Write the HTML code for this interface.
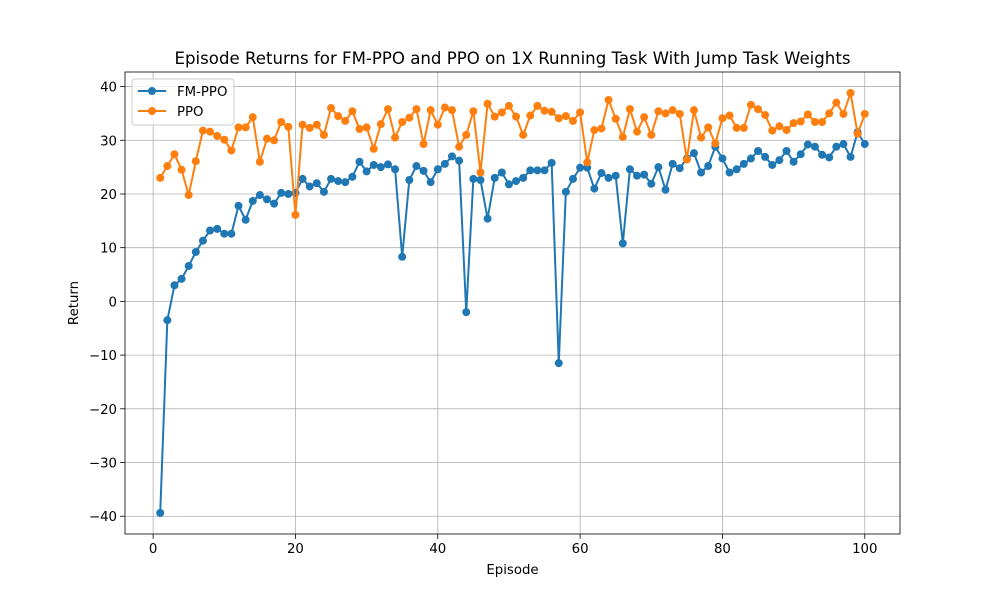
<!DOCTYPE html>
<html><head><meta charset="utf-8"><style>
body{margin:0;background:#fff}
svg{font-family:"DejaVu Sans","Liberation Sans",sans-serif}
</style></head><body>
<svg id="chart" width="1000" height="600" viewBox="0 0 1000 600">
<rect width="1000" height="600" fill="#fff"/>
<g id="grid"></g>
<g id="series"></g>
<rect x="125" y="72" width="775" height="462" fill="none" stroke="#000" stroke-width="0.8"/>
<g id="ticks"></g>
<text x="512.5" y="64" text-anchor="middle" font-size="16.6">Episode Returns for FM-PPO and PPO on 1X Running Task With Jump Task Weights</text>
<text x="512.5" y="574" text-anchor="middle" font-size="13.3">Episode</text>
<text x="78" y="303" text-anchor="middle" font-size="13.3" transform="rotate(-90 78 303)">Return</text>
<g>
<rect x="132" y="79" width="102" height="46" rx="3" fill="#fff" fill-opacity="0.8" stroke="#ccc"/>
<g>
<line x1="138" y1="91" x2="166" y2="91" stroke="#1f77b4" stroke-width="2"/><circle cx="152" cy="91" r="4" fill="#1f77b4"/>
<text x="177" y="96" font-size="13.3">FM-PPO</text></g>
<g>
<line x1="138" y1="111" x2="166" y2="111" stroke="#ff7f0e" stroke-width="2"/><circle cx="152" cy="111" r="4" fill="#ff7f0e"/>
<text x="177" y="116" font-size="13.3">PPO</text></g>
</g>
</svg>
<script>
const fmppo=[-39.4,-3.5,3,4.2,6.6,9.2,11.3,13.2,13.5,12.6,12.6,17.8,15.2,18.7,19.8,19,18.2,20.2,20,20.2,22.8,21.4,22,20.4,22.8,22.4,22.2,23.2,26,24.2,25.4,25,25.5,24.6,8.3,22.6,25.2,24.3,22.2,24.6,25.6,27,26.2,-2,22.8,22.6,15.4,23,24,21.8,22.4,23,24.4,24.4,24.4,25.8,-11.5,20.4,22.8,24.9,24.9,21,23.9,23,23.4,10.8,24.6,23.4,23.6,21.9,25,20.8,25.6,24.8,26.6,27.6,24,25.2,28.8,26.6,24,24.6,25.6,26.6,28,26.9,25.4,26.3,28,26,27.4,29.2,28.8,27.3,26.8,28.8,29.3,26.9,31.5,29.3];
const ppo=[23,25.2,27.4,24.5,19.8,26.1,31.8,31.6,30.8,30.1,28.1,32.4,32.4,34.3,26,30.3,30,33.4,32.5,16.1,32.9,32.3,32.9,31,36,34.5,33.6,35.4,32.1,32.4,28.4,33,35.8,30.5,33.4,34.2,35.8,29.3,35.6,32.9,36.1,35.6,28.8,31,35.4,24,36.8,34.4,35.2,36.4,34.4,31,34.6,36.4,35.5,35.3,34.1,34.5,33.6,35.2,25.9,31.9,32.2,37.5,34,30.6,35.8,31.6,34.3,31,35.4,35,35.6,34.9,26.4,35.6,30.5,32.4,29.4,34.1,34.6,32.3,32.3,36.6,35.8,34.7,31.8,32.6,31.9,33.2,33.5,34.8,33.4,33.4,35,37,34.9,38.8,31.2,34.9];
const xTicks=[0,20,40,60,80,100];
const yTicks=[-40,-30,-20,-10,0,10,20,30,40];
const NS="http://www.w3.org/2000/svg";
const L=125,R=900,T=72,B=534;
const n=fmppo.length;
const xmin=1-(n-1)*0.05,xmax=n+(n-1)*0.05;
const all=fmppo.concat(ppo);
const dmin=Math.min(...all),dmax=Math.max(...all),pad=(dmax-dmin)*0.05;
const ymin=dmin-pad,ymax=dmax+pad;
const X=v=>L+(v-xmin)/(xmax-xmin)*(R-L);
const Y=v=>B-(v-ymin)/(ymax-ymin)*(B-T);
function el(t,a,p){const e=document.createElementNS(NS,t);for(const k in a)e.setAttribute(k,a[k]);p.appendChild(e);return e;}
const grid=document.getElementById('grid'),ticks=document.getElementById('ticks'),ser=document.getElementById('series');
xTicks.forEach(v=>{const x=X(v);
const g=el('line',{x1:x,x2:x,y1:T,y2:B,stroke:'#b0b0b0','stroke-width':0.8},grid);


el('line',{x1:x,x2:x,y1:B,y2:B+4.9,stroke:'#000','stroke-width':0.8},ticks);
const t=el('text',{x:x,y:B+19,'text-anchor':'middle','font-size':13.3},ticks);t.textContent=v;

});
yTicks.forEach(v=>{const y=Y(v);
const g=el('line',{x1:L,x2:R,y1:y,y2:y,stroke:'#b0b0b0','stroke-width':0.8},grid);


el('line',{x1:L-4.9,x2:L,y1:y,y2:y,stroke:'#000','stroke-width':0.8},ticks);
const t=el('text',{x:L-8,y:y+5,'text-anchor':'end','font-size':13.3},ticks);t.textContent=(v<0?'\u2212'+(-v):v);

});
[[fmppo,'#1f77b4','fm-ppo'],[ppo,'#ff7f0e','ppo']].forEach(([d,c,nm])=>{
const g=el('g',{},ser);


const pts=d.map((v,i)=>X(i+1)+','+Y(v)).join(' ');
const pl=el('polyline',{points:pts,fill:'none',stroke:c,'stroke-width':2,'stroke-linejoin':'round'},g);


d.forEach((v,i)=>{const p=el('circle',{cx:X(i+1),cy:Y(v),r:4,fill:c},g);

});
});
</script>
</body></html>
